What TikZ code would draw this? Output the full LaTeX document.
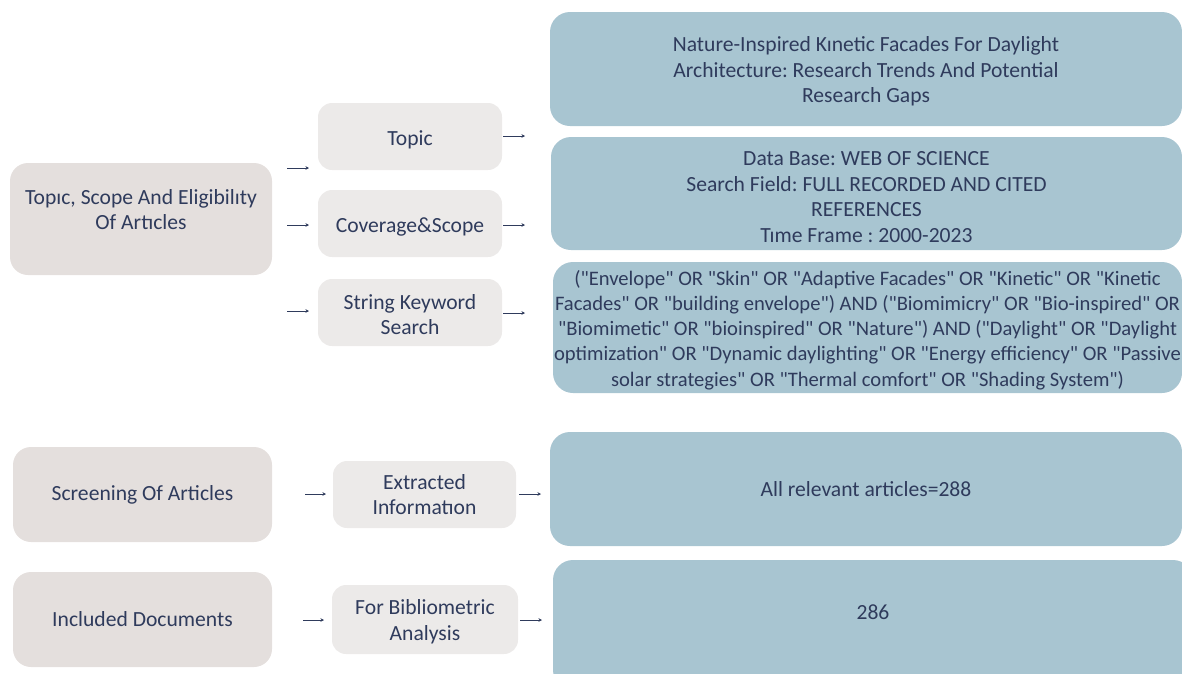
\documentclass[tikz,border=0pt]{standalone}
\usepackage{fontspec}
\setmainfont{Carlito}[Ligatures=TeXOff]
\usetikzlibrary{arrows.meta}
\frenchspacing
\definecolor{txt}{HTML}{2F3B5C}
\definecolor{mainfill}{HTML}{E4DFDD}
\definecolor{subfill}{HTML}{ECEAE9}
\definecolor{bluefill}{HTML}{A8C5D1}
\tikzset{
  box/.style={rectangle, rounded corners=18pt, draw=none, inner sep=0pt},
  mainbox/.style={box, fill=mainfill},
  subbox/.style={box, fill=subfill, rounded corners=14pt},
  bluebox/.style={box, fill=bluefill, rounded corners=20pt},
  lbl/.style={align=center, text=txt, inner sep=0pt, font=\fontsize{21.6}{25.5}\selectfont},
  kwlbl/.style={lbl, font=\fontsize{20.6}{25.2}\selectfont},
  conn/.style={draw=txt, line width=0.8pt, -{Stealth[length=3.5pt,width=3.5pt]}}
}
\begin{document}
\begin{tikzpicture}[x=1pt,y=-1pt]
\useasboundingbox (0,0) rectangle (1182,673);
\begin{scope}
\clip (0,0) rectangle (1182,673);
% left main boxes
\node[mainbox, minimum width=262pt, minimum height=112pt] (m1) at (141,219) {};
\node[mainbox, minimum width=259pt, minimum height=95pt] (m2) at (142.5,494.5) {};
\node[mainbox, minimum width=259pt, minimum height=95pt] (m3) at (142.5,619.5) {};
% sub boxes
\node[subbox, minimum width=184pt, minimum height=67pt] (s1) at (410,136.5) {};
\node[subbox, minimum width=184pt, minimum height=67pt] (s2) at (410,223.5) {};
\node[subbox, minimum width=184pt, minimum height=67pt] (s3) at (410,312.5) {};
\node[subbox, minimum width=183pt, minimum height=67pt] (s4) at (424.5,494.5) {};
\node[subbox, minimum width=186pt, minimum height=69pt] (s5) at (425,619.5) {};
% blue boxes
\node[bluebox, minimum width=632pt, minimum height=114pt] (b1) at (866,69) {};
\node[bluebox, minimum width=631pt, minimum height=113pt] (b2) at (866.5,193.5) {};
\node[bluebox, minimum width=629pt, minimum height=131pt] (b3) at (867.5,327.5) {};
\node[bluebox, minimum width=632pt, minimum height=114pt] (b4) at (866,489) {};
\node[bluebox, minimum width=640pt, minimum height=130pt] (b5) at (873,625) {};
\end{scope}
% texts
\node[lbl] (tm1) at ([yshift=9.5pt]m1.center) {Topıc, Scope And Eligibilıty\\Of Artıcles};
\node[lbl] (tm2) at (m2.center) {Screening Of Articles};
\node[lbl] (tm3) at (m3.center) {Included Documents};
\node[lbl] (ts1) at ([yshift=-3.5pt]s1.center) {Topic};
\node[lbl] (ts2) at ([yshift=-3.5pt]s2.center) {Coverage\&Scope};
\node[lbl] (ts3) at ([yshift=-2pt]s3.center) {String Keyword\\Search};
\node[lbl] (ts4) at (s4.center) {Extracted\\Informatıon};
\node[lbl] (ts5) at ([yshift=-2pt]s5.center) {For Bibliometric\\Analysis};
\node[lbl] (tb1) at ([yshift=-2.5pt]b1.center) {Nature-Inspired Kınetic Facades For Daylight\\Architecture: Research Trends And Potential\\Research Gaps};
\node[lbl] (tb2) at ([yshift=-3.5pt]b2.center) {Data Base: WEB OF SCIENCE\\Search Field: FULL RECORDED AND CITED\\REFERENCES\\Tıme Frame : 2000-2023};
\node[kwlbl] (tb3) at ([yshift=-2.5pt]b3.center) {("Envelope" OR "Skin" OR "Adaptive Facades" OR "Kinetic" OR "Kinetic\\Facades" OR "building envelope") AND ("Biomimicry" OR "Bio-inspired" OR\\"Biomimetic" OR "bioinspired" OR "Nature") AND ("Daylight" OR "Daylight\\optimization" OR "Dynamic daylighting" OR "Energy efficiency" OR "Passive\\solar strategies" OR "Thermal comfort" OR "Shading System")};
\node[lbl] (tb4) at (b4.center) {All relevant articles=288};
\node[lbl] (tb5) at (873,612) {286};
% connectors
\coordinate (a1) at (287,168);
\coordinate (a2) at (287,225);
\coordinate (a3) at (287,311);
\draw[conn] (a1) -- (309,168);
\draw[conn] (a2) -- (309,225);
\draw[conn] (a3) -- (309,311);
\draw[conn] (503,136) -- (525,136);
\draw[conn] (503,225) -- (525,225);
\draw[conn] (503,313) -- (525,313);
\draw[conn] (305,494) -- (326,494);
\draw[conn] (519,494) -- (541,494);
\draw[conn] (303,620) -- (324,620);
\draw[conn] (520,620) -- (542,620);
\end{tikzpicture}
\end{document}
